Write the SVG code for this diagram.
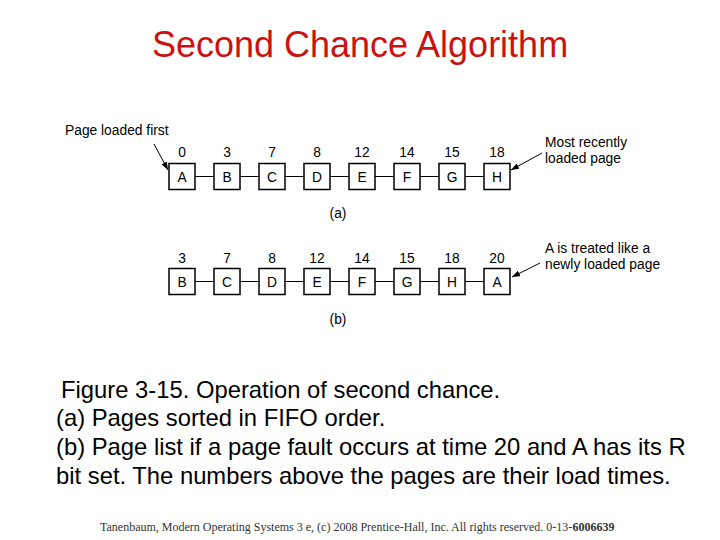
<svg xmlns="http://www.w3.org/2000/svg" width="720" height="540" viewBox="0 0 720 540">
<style>
.t{font-family:"Liberation Sans",Arial,sans-serif;fill:#000}
.s{font-size:13.8px}
.c{text-anchor:middle}
.box{fill:#fff;stroke:#000;stroke-width:1.5}
.ln{stroke:#000;stroke-width:1.2;fill:none}
.ar{stroke:#000;stroke-width:1;fill:none}
</style>
<defs>
<marker id="ah" markerWidth="8" markerHeight="6" refX="8" refY="3" orient="auto" markerUnits="userSpaceOnUse">
<path d="M0,0 L8,3 L0,6 Z" fill="#000"/>
</marker>
</defs>
<rect width="720" height="540" fill="#fff"/>
<text x="360" y="57" class="t c" style="font-size:36px;fill:#cc1111">Second Chance Algorithm</text>

<g id="connectors">
<path class="ln" d="M195,176.5H214M240,176.5H259M285,176.5H304M330,176.5H349M375,176.5H394M420,176.5H439M465,176.5H484"/>
<path class="ln" d="M195,281.5H214M240,281.5H259M285,281.5H304M330,281.5H349M375,281.5H394M420,281.5H439M465,281.5H484"/>
<line class="ar" x1="154" y1="144" x2="168" y2="170" marker-end="url(#ah)"/>
<line class="ar" x1="542" y1="153" x2="511" y2="170" marker-end="url(#ah)"/>
<line class="ar" x1="540" y1="263" x2="512" y2="277" marker-end="url(#ah)"/>
</g>

<g id="label-first"><text x="65" y="135" class="t s">Page loaded first</text></g>
<g id="label-recent"><text x="545" y="147" class="t s">Most recently</text><text x="545" y="163" class="t s">loaded page</text></g>
<g id="label-treated"><text x="545" y="253" class="t s">A is treated like a</text><text x="545" y="269" class="t s">newly loaded page</text></g>

<g id="a-A"><text x="182" y="157" class="t s c">0</text><rect class="box" x="169" y="163.5" width="26" height="26"/><text x="182" y="181.5" class="t s c">A</text></g>
<g id="a-B"><text x="227" y="157" class="t s c">3</text><rect class="box" x="214" y="163.5" width="26" height="26"/><text x="227" y="181.5" class="t s c">B</text></g>
<g id="a-C"><text x="272" y="157" class="t s c">7</text><rect class="box" x="259" y="163.5" width="26" height="26"/><text x="272" y="181.5" class="t s c">C</text></g>
<g id="a-D"><text x="317" y="157" class="t s c">8</text><rect class="box" x="304" y="163.5" width="26" height="26"/><text x="317" y="181.5" class="t s c">D</text></g>
<g id="a-E"><text x="362" y="157" class="t s c">12</text><rect class="box" x="349" y="163.5" width="26" height="26"/><text x="362" y="181.5" class="t s c">E</text></g>
<g id="a-F"><text x="407" y="157" class="t s c">14</text><rect class="box" x="394" y="163.5" width="26" height="26"/><text x="407" y="181.5" class="t s c">F</text></g>
<g id="a-G"><text x="452" y="157" class="t s c">15</text><rect class="box" x="439" y="163.5" width="26" height="26"/><text x="452" y="181.5" class="t s c">G</text></g>
<g id="a-H"><text x="497" y="157" class="t s c">18</text><rect class="box" x="484" y="163.5" width="26" height="26"/><text x="497" y="181.5" class="t s c">H</text></g>
<g id="label-a"><text x="338" y="218" class="t s c">(a)</text></g>

<g id="b-B"><text x="182" y="263" class="t s c">3</text><rect class="box" x="169" y="268.5" width="26" height="26"/><text x="182" y="286.5" class="t s c">B</text></g>
<g id="b-C"><text x="227" y="263" class="t s c">7</text><rect class="box" x="214" y="268.5" width="26" height="26"/><text x="227" y="286.5" class="t s c">C</text></g>
<g id="b-D"><text x="272" y="263" class="t s c">8</text><rect class="box" x="259" y="268.5" width="26" height="26"/><text x="272" y="286.5" class="t s c">D</text></g>
<g id="b-E"><text x="317" y="263" class="t s c">12</text><rect class="box" x="304" y="268.5" width="26" height="26"/><text x="317" y="286.5" class="t s c">E</text></g>
<g id="b-F"><text x="362" y="263" class="t s c">14</text><rect class="box" x="349" y="268.5" width="26" height="26"/><text x="362" y="286.5" class="t s c">F</text></g>
<g id="b-G"><text x="407" y="263" class="t s c">15</text><rect class="box" x="394" y="268.5" width="26" height="26"/><text x="407" y="286.5" class="t s c">G</text></g>
<g id="b-H"><text x="452" y="263" class="t s c">18</text><rect class="box" x="439" y="268.5" width="26" height="26"/><text x="452" y="286.5" class="t s c">H</text></g>
<g id="b-A"><text x="497" y="263" class="t s c">20</text><rect class="box" x="484" y="268.5" width="26" height="26"/><text x="497" y="286.5" class="t s c">A</text></g>
<g id="label-b"><text x="338" y="324" class="t s c">(b)</text></g>

<g id="caption" class="t" style="font-size:23.8px">
<text x="61" y="398">Figure 3-15. Operation of second chance.</text>
<text x="56" y="426">(a) Pages sorted in FIFO order.</text>
<text x="56" y="455">(b) Page list if a page fault occurs at time 20 and A has its R</text>
<text x="56" y="484">bit set. The numbers above the pages are their load times.</text>
</g>

<text x="100" y="531" style="font-family:'Liberation Serif','Times New Roman',serif;font-size:12px;fill:#333">Tanenbaum, Modern Operating Systems 3 e, (c) 2008 Prentice-Hall, Inc. All rights reserved. 0-13-<tspan font-weight="bold">6006639</tspan></text>
</svg>
